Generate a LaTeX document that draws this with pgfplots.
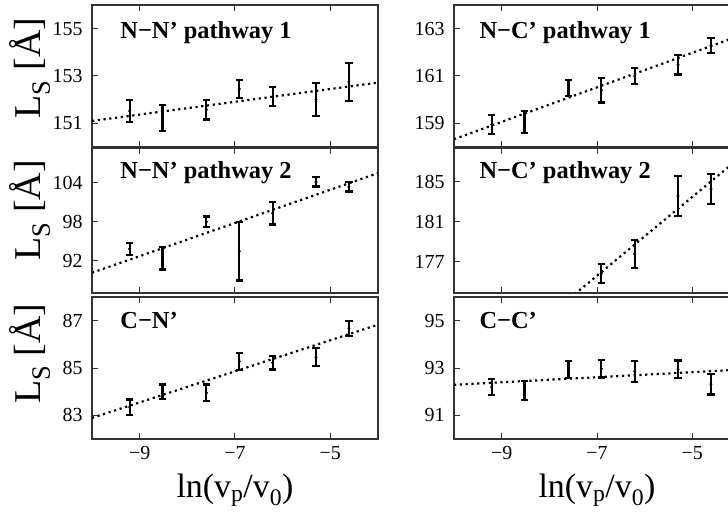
\documentclass[border=0pt]{standalone}
\usepackage{fontspec}
\setmainfont{Liberation Serif}
\usepackage{pgfplots}
\pgfplotsset{compat=1.18}
\definecolor{framec}{HTML}{333333}
\tikzset{ttl/.style={font=\fontsize{24.5}{26}\selectfont\bfseries, anchor=base west}}
\pgfplotsset{
  panel/.style={
    scale only axis, width=286bp,
    xmin=-10, xmax=-4,
    xtick={-9,-7,-5},
    xticklabels={},
    tick align=inside,
    xtick pos=both, ytick pos=left,
    xticklabel pos=left,
    major tick length=6bp,
    axis line style={framec, line width=1.3bp},
    every tick/.style={framec, line width=1bp},
    tick label style={font=\fontsize{20}{22}\selectfont},
    yticklabel style={xshift=-6bp},
    xticklabel style={yshift=-4bp},
    /pgf/number format/assume math mode=true,
    ylabel style={font=\fontsize{38}{42}\selectfont, anchor=center},
    xlabel style={font=\fontsize{34}{38}\selectfont, at={(axis description cs:0.5,-0.415)}, anchor=base},
  },
  errs/.style={only marks, black, mark=*, mark size=1.3bp,
    error bars/.cd, y dir=both, y explicit,
    error bar style={line width=2.2bp, black},
    error mark options={rotate=90, mark size=3.6bp, line width=2.2bp, black}},
  fit/.style={black, line width=2.2bp, dash pattern=on 2.2bp off 3.6bp, no marks},
}
\begin{document}
\begin{tikzpicture}
\useasboundingbox (0bp,0bp) rectangle (728bp,518bp);
% top-left
\begin{axis}[panel, at={(92bp,371bp)}, anchor=south west, height=142bp,
  ymin=150, ymax=156, ytick={151,153,155},
  ylabel={L\textsubscript{S} [Å]}, ylabel style={at={(axis description cs:-0.217,0.556)}}]
\addplot[fit] coordinates {(-10,151.1) (-4,152.72)};
\addplot[errs] coordinates {
(-9.21,151.52) +- (0,0.48)
(-8.52,151.22) +- (0,0.55)
(-7.60,151.58) +- (0,0.42)
(-6.91,152.45) +- (0,0.37)
(-6.21,152.12) +- (0,0.40)
(-5.30,152.00) +- (0,0.70)
(-4.61,152.75) +- (0,0.80)};
\node[ttl] at (axis description cs:0.087,0.765) {N−N’ pathway 1};
\end{axis}
% top-right
\begin{axis}[panel, at={(454bp,371bp)}, anchor=south west, height=142bp,
  ymin=158, ymax=164, ytick={159,161,163}]
\addplot[fit] coordinates {(-10,158.33) (-4,162.71)};
\addplot[errs] coordinates {
(-9.21,158.95) +- (0,0.40)
(-8.52,159.05) +- (0,0.47)
(-7.60,160.48) +- (0,0.34)
(-6.91,160.40) +- (0,0.52)
(-6.21,161.00) +- (0,0.35)
(-5.30,161.48) +- (0,0.42)
(-4.61,162.30) +- (0,0.32)};
\node[ttl] at (axis description cs:0.077,0.765) {N−C’ pathway 1};
\end{axis}
% middle-left
\begin{axis}[panel, at={(92bp,225bp)}, anchor=south west, height=145bp,
  ymin=87.1, ymax=109.3, ytick={92,98,104},
  ylabel={L\textsubscript{S} [Å]}, ylabel style={at={(axis description cs:-0.217,0.57)}}]
\addplot[fit] coordinates {(-10,90.2) (-4,105.45)};
\addplot[errs] coordinates {
(-9.21,93.85) +- (0,0.95)
(-8.52,92.40) +- (0,1.70)
(-7.60,98.00) +- (0,0.80)
(-6.91,93.50) +- (0,4.50)
(-6.21,99.30) +- (0,1.70)
(-5.30,104.10) +- (0,0.70)
(-4.61,103.35) +- (0,0.70)};
\node[ttl] at (axis description cs:0.087,0.79) {N−N’ pathway 2};
\end{axis}
% middle-right
\begin{axis}[panel, at={(454bp,225bp)}, anchor=south west, height=145bp,
  ymin=173.9, ymax=188.4, ytick={177,181,185}]
\addplot[fit] coordinates {(-10,163.8) (-4,187.45)};
\addplot[errs] coordinates {
(-6.91,175.85) +- (0,0.92)
(-6.21,177.80) +- (0,1.40)
(-5.30,183.60) +- (0,2.00)
(-4.61,184.30) +- (0,1.50)};
\node[ttl] at (axis description cs:0.077,0.79) {N−C’ pathway 2};
\end{axis}
% bottom-left
\begin{axis}[panel, at={(92bp,79bp)}, anchor=south west, height=142bp,
  ymin=82, ymax=88, ytick={83,85,87},
  xticklabels={−9,−7,−5},
  xlabel={ln(v\textsubscript{p}/v\textsubscript{0})},
  ylabel={L\textsubscript{S} [Å]}, ylabel style={at={(axis description cs:-0.217,0.60)}}]
\addplot[fit] coordinates {(-10,82.89) (-4,86.83)};
\addplot[errs] coordinates {
(-9.21,83.35) +- (0,0.32)
(-8.52,84.00) +- (0,0.30)
(-7.60,83.95) +- (0,0.35)
(-6.91,85.27) +- (0,0.37)
(-6.21,85.22) +- (0,0.28)
(-5.30,85.45) +- (0,0.38)
(-4.61,86.67) +- (0,0.33)};
\node[ttl] at (axis description cs:0.087,0.78) {C−N’};
\end{axis}
% bottom-right
\begin{axis}[panel, at={(454bp,79bp)}, anchor=south west, height=142bp,
  ymin=90, ymax=96, ytick={91,93,95},
  xticklabels={−9,−7,−5},
  xlabel={ln(v\textsubscript{p}/v\textsubscript{0})}]
\addplot[fit] coordinates {(-10,92.29) (-4,92.93)};
\addplot[errs] coordinates {
(-9.21,92.20) +- (0,0.33)
(-8.52,92.05) +- (0,0.40)
(-7.60,92.95) +- (0,0.36)
(-6.91,92.97) +- (0,0.37)
(-6.21,92.85) +- (0,0.44)
(-5.30,92.95) +- (0,0.37)
(-4.61,92.32) +- (0,0.44)};
\node[ttl] at (axis description cs:0.077,0.78) {C−C’};
\end{axis}
\end{tikzpicture}
\end{document}
